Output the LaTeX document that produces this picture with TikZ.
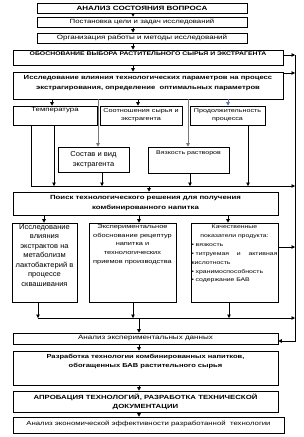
\documentclass[tikz,border=0pt]{standalone}
\usepackage{fontspec}
\setmainfont{Liberation Sans}[FakeStretch=1.3]
\newfontfamily\condfont{Liberation Sans}[FakeStretch=1.05]
\usetikzlibrary{arrows.meta}
\newcommand\myfs[2]{\fontsize{#1}{#2}\selectfont}
\definecolor{arrblue}{RGB}{90,120,180}
\definecolor{lngray}{RGB}{120,120,120}
\begin{document}
\begin{tikzpicture}[x=1pt,y=-1pt,
  box/.style={draw, line width=0.7pt, inner sep=0pt, align=center},
  txt/.style={inner sep=0pt, align=center},
  arr/.style={-{Triangle[length=3.5pt,width=3.6pt]}, line width=0.7pt},
  ln/.style={line width=0.7pt}]
\useasboundingbox (0,0) rectangle (304,437);
% column / row coordinates
\coordinate (c133) at (133,0);
\coordinate (c52) at (52,0);
\coordinate (c138) at (138,0);
\coordinate (c228) at (228,0);
\coordinate (c98) at (98,0);
\coordinate (c188) at (188,0);
\coordinate (c54) at (54,0);
\coordinate (c102) at (102,0);
\coordinate (c190) at (190,0);
\coordinate (c248) at (248,0);
\coordinate (c149) at (149,0);
\coordinate (c44) at (44,0);
\coordinate (c139) at (139,0);
\coordinate (c229) at (229,0);
\coordinate (bar1s) at (31,186);
\coordinate (bar1e) at (295,186);
\coordinate (bar2s) at (38,318);
\coordinate (bar2e) at (295,318);
\coordinate (vtop) at (295,55);
\coordinate (vbot) at (295,341);
\coordinate (y73) at (0,73);
\coordinate (y247) at (0,247);
% boxes
\node[box, minimum width=210pt, minimum height=10pt, font=\bfseries\myfs{6.2}{8}] (b1) at (142,8) {АНАЛИЗ СОСТОЯНИЯ ВОПРОСА};
\node[box, minimum width=210pt, minimum height=10pt, font=\myfs{6}{8}] (b2) at (142,22) {Постановка цели и задач исследований};
\node[box, minimum width=210pt, minimum height=10pt, font=\myfs{6.2}{8}] (b3) at (142,38) {Организация работы и методы исследований};
\node[box, minimum width=270pt, minimum height=15pt] (b4) at (148,57.5) {};
\node[txt, font=\bfseries\myfs{5.3}{7}, anchor=north] (b4t) at ([yshift=-1.5pt]b4.north) {ОБОСНОВАНИЕ ВЫБОРА РАСТИТЕЛЬНОГО СЫРЬЯ И ЭКСТРАГЕНТА};
\node[box, minimum width=270pt, minimum height=27pt] (b5) at (148,85.5) {};
\node[txt, font=\bfseries\myfs{5.9}{10}] (b5t) at (148,83.5) {Исследование влияния технологических параметров на процесс\\экстрагирования, определение\ \ оптимальных параметров};
\node[box, minimum width=84pt, minimum height=19pt] (t1) at (55,115.5) {};
\node[txt, font=\myfs{6}{8}, anchor=north] (t1t) at ([yshift=-2pt]t1.north) {Температура};
\node[box, minimum width=82pt, minimum height=19pt, font=\myfs{5.6}{8}] (t2) at (141,115.5) {Соотношения сырья и\\экстрагента};
\node[box, minimum width=75pt, minimum height=19pt, font=\myfs{5.5}{8}] (t3) at (227.5,115.5) {Продолжительность\\процесса};
\node[box, minimum width=71pt, minimum height=25pt, font=\condfont\myfs{7.2}{10}] (s1) at (93.5,159.5) {Состав и вид\\экстрагента};
\node[box, minimum width=81pt, minimum height=26pt] (s2) at (188.5,160) {};
\node[txt, font=\myfs{5.4}{8}, anchor=north] (s2t) at ([yshift=-4pt]s2.north) {Вязкость растворов};
\node[box, minimum width=265pt, minimum height=23pt, font=\bfseries\myfs{6}{10}] (p) at (145.5,203.5) {Поиск технологического решения для получения\\комбинированного напитка};
\node[box, minimum width=65pt, minimum height=79pt] (A) at (44.5,262.5) {};
\node[txt, font=\condfont\myfs{7.2}{9.5}, anchor=north] (At) at ([yshift=-1.5pt]A.north) {Исследование\\влияния\\экстрактов на\\метаболизм\\лактобактерий в\\процессе\\сквашивания};
\node[box, minimum width=87pt, minimum height=79pt] (B) at (132.5,262.5) {};
\node[txt, font=\myfs{5.7}{8.7}, anchor=north] (Bt) at ([yshift=-1.5pt]B.north) {Экспериментальное\\обоснование рецептур\\напитка и\\технологических\\приемов производства};
\node[box, minimum width=87pt, minimum height=79pt] (C) at (234.5,262.5) {};
\node[txt, font=\myfs{5.3}{9}, anchor=north, text width=86pt, align=left] (Ct) at ([yshift=-1.5pt]C.north) {{\centering Качественные\\показатели продукта:\par}\noindent • вязкость\\• титруемая\hfill и\hfill активная\\кислотность\\• хранимоспособность\\• содержание БАВ};
\node[box, minimum width=265pt, minimum height=11pt, font=\myfs{6.2}{8}] (an) at (145.5,338.5) {Анализ экспериментальных данных};
\node[box, minimum width=265pt, minimum height=34pt] (r) at (145.5,368) {};
\node[txt, font=\bfseries\myfs{5.8}{9}, anchor=north] (rt) at ([yshift=-3pt]r.north) {Разработка технологии комбинированных напитков,\\обогащенных БАВ растительного сырья};
\node[box, minimum width=265pt, minimum height=21pt, font=\bfseries\myfs{6}{9}] (ap) at (145.5,401.5) {АПРОБАЦИЯ ТЕХНОЛОГИЙ, РАЗРАБОТКА ТЕХНИЧЕСКОЙ\\ДОКУМЕНТАЦИИ};
\node[box, minimum width=271pt, minimum height=16pt] (ec) at (148.5,425) {};
\node[txt, font=\myfs{6}{8}] (ect) at (148.5,423.5) {Анализ экономической эффективности разработанной\ \ технологии};
% connectors
\draw[arr] (b1.south -| c133) -- (b2.north -| c133);
\draw[arr] (b2.south -| c133) -- (b3.north -| c133);
\draw[arr] (b3.south -| c133) -- (b4.north -| c133);
\draw[arr] (b4.south -| c133) -- (b5.north -| c133);
\draw[arr] (b5.south -| c52) -- (t1.north -| c52);
\draw[arr] (b5.south -| c138) -- (t2.north -| c138);
\draw[arr, arrblue] (b5.south -| c228) -- (t3.north -| c228);
\draw[arr, lngray] (b5.south -| c98) -- (s1.north -| c98);
\draw[arr, lngray] (b5.south -| c188) -- (s2.north -| c188);
\draw[arr] (t1.south -| bar1s) -- (bar1s) -- (bar1e);
\draw[arr] (t1.south -| c54) -- (c54 |- bar1s);
\draw[arr] (s1.south -| c102) -- (c102 |- bar1s);
\draw[arr] (s2.south -| c190) -- (c190 |- bar1s);
\draw[arr] (t3.south -| c248) -- (c248 |- bar1s);
\draw[arr] (c149 |- bar1s) -- (p.north -| c149);
\draw[arr] (p.south -| c44) -- (A.north -| c44);
\draw[arr] (p.south -| c139) -- (B.north -| c139);
\draw[arr] (p.south -| c228) -- (C.north -| c228);
\draw[arr] (A.south -| bar2s) -- (bar2s);
\draw[arr] (B.south -| c133) -- (c133 |- bar2s);
\draw[arr] (C.south -| c229) -- (c229 |- bar2s);
\draw[arr] (bar2s) -- (bar2e);
\draw[arr] (c139 |- bar2s) -- (an.north -| c139);
\draw[arr] (an.south -| c139) -- (r.north -| c139);
\draw[arr] (r.south -| c139) -- (ap.north -| c139);
\draw[arr] (ap.south -| c139) -- (ec.north -| c139);
\draw[arr] (b4.east |- vtop) -- (vtop);
\draw[arr] (b5.east |- y73) -- (vtop |- y73);
\draw[arr] (C.east |- y247) -- (vtop |- y247);
\draw[arr] (vtop) -- (vbot) -- (an.east |- vbot);
\end{tikzpicture}
\end{document}
